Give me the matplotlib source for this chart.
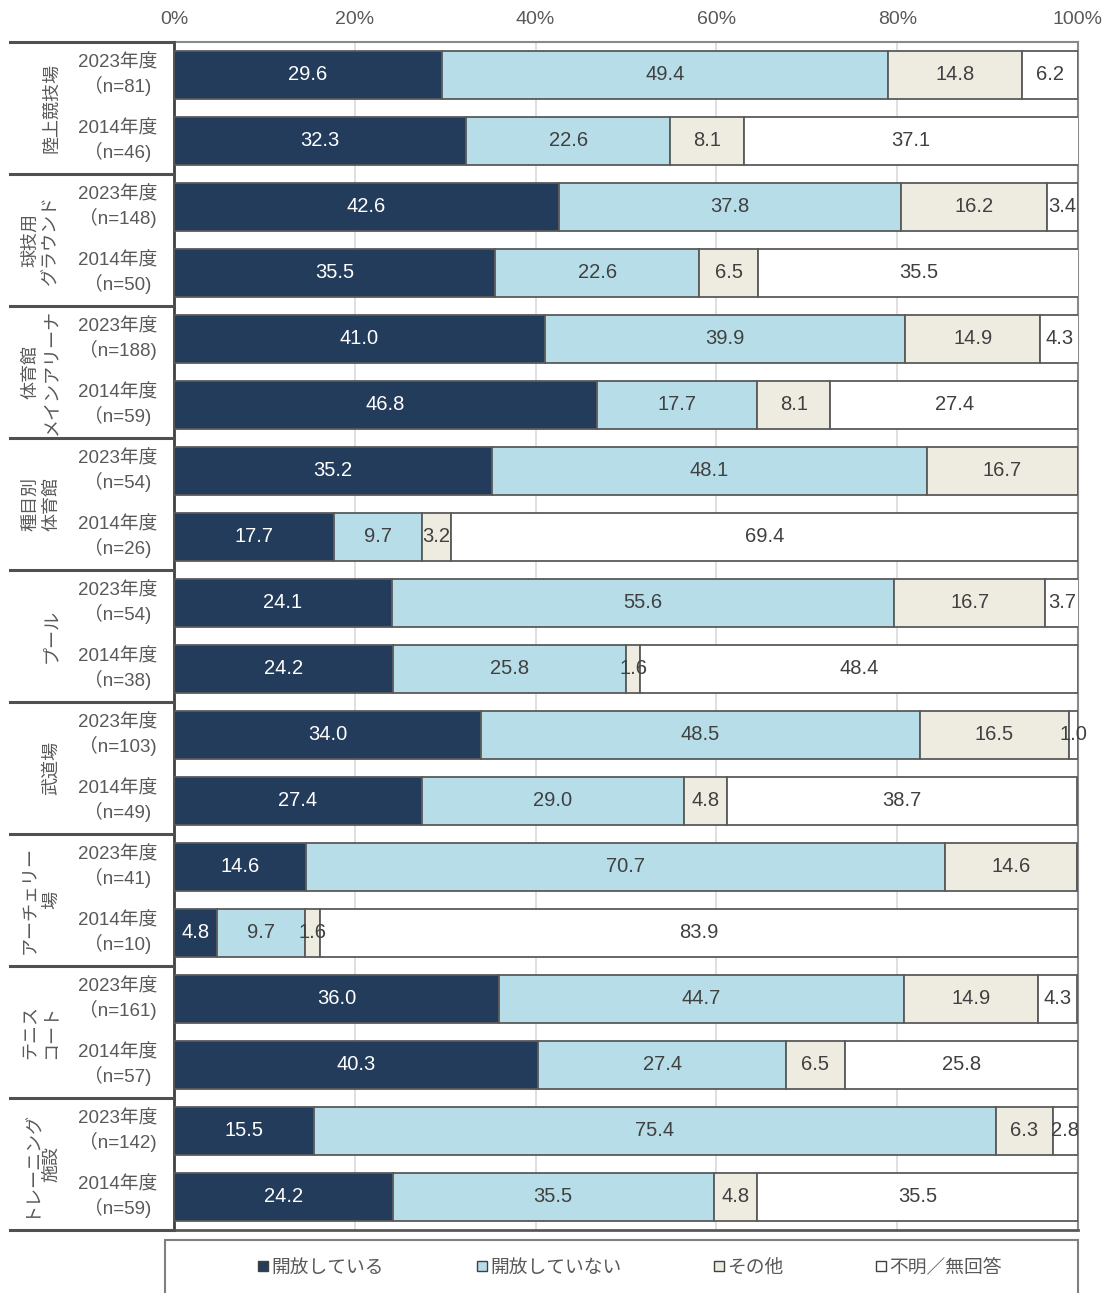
import matplotlib
matplotlib.use('Agg')
import matplotlib.pyplot as plt
from matplotlib.lines import Line2D
from matplotlib.patches import Rectangle
import matplotlib.transforms as mtransforms
import numpy as np

plt.rcParams['font.family'] = ['Liberation Sans', 'Noto Sans CJK JP', 'DejaVu Sans']
CJK = ['Noto Sans CJK JP', 'DejaVu Sans']

# Facilities (two survey years each)
facilities = ['陸上競技場', '球技用\nグラウンド', '体育館\nメインアリーナ', '種目別\n体育館',
              'プール', '武道場', 'アーチェリー\n場', 'テニス\nコート', 'トレーニング\n施設']
years = ['2023年度', '2014年度']
n_2023 = [81, 148, 188, 54, 54, 103, 41, 161, 142]
n_2014 = [46, 50, 59, 26, 38, 49, 10, 57, 59]

# Percentages, ordered facility by facility: 2023, 2014
open_vals = [29.6, 32.3, 42.6, 35.5, 41.0, 46.8, 35.2, 17.7, 24.1, 24.2,
             34.0, 27.4, 14.6, 4.8, 36.0, 40.3, 15.5, 24.2]
closed_vals = [49.4, 22.6, 37.8, 22.6, 39.9, 17.7, 48.1, 9.7, 55.6, 25.8,
               48.5, 29.0, 70.7, 9.7, 44.7, 27.4, 75.4, 35.5]
other_vals = [14.8, 8.1, 16.2, 6.5, 14.9, 8.1, 16.7, 3.2, 16.7, 1.6,
              16.5, 4.8, 14.6, 1.6, 14.9, 6.5, 6.3, 4.8]
unknown_vals = [6.2, 37.1, 3.4, 35.5, 4.3, 27.4, 0.0, 69.4, 3.7, 48.4,
                1.0, 38.7, 0.0, 83.9, 4.3, 25.8, 2.8, 35.5]

series_names = ['開放している', '開放していない', 'その他', '不明／無回答']
series_vals = [open_vals, closed_vals, other_vals, unknown_vals]
colors = ['#243c5c', '#b7dde8', '#eeebe1', '#ffffff']
text_colors = ['#ffffff', '#404040', '#404040', '#404040']
x_ticks = [0, 20, 40, 60, 80, 100]

W, H = 1105, 1293
fig = plt.figure(figsize=(W / 100, H / 100), dpi=100)
left_px, right_px, top_px, bottom_px = 174, 1078, 42, 1230
ax = fig.add_axes([left_px / W, 1 - bottom_px / H,
                   (right_px - left_px) / W, (bottom_px - top_px) / H])

n_bars = len(open_vals)
ypos = np.arange(n_bars)
bar_h = 0.73

left = np.zeros(n_bars)
for vals, col, tcol in zip(series_vals, colors, text_colors):
    vals = np.array(vals)
    ax.barh(ypos, vals, left=left, height=bar_h, color=col,
            edgecolor='#5a5a5a', linewidth=1.3, zorder=3)
    for y, v, l in zip(ypos, vals, left):
        if v > 0:
            ax.text(l + v / 2, y, f'{v:.1f}', ha='center', va='center',
                    color=tcol, fontsize=14.5, zorder=4)
    left += vals

ax.set_xlim(0, 100)
ax.set_ylim(n_bars - 0.5, -0.5)
ax.set_yticks([])
ax.xaxis.tick_top()
ax.set_xticks(x_ticks)
ax.set_xticklabels([f'{t}%' for t in x_ticks], fontsize=14, color='#595959')
ax.tick_params(axis='x', length=0, pad=10)
for t in x_ticks[1:-1]:
    ax.axvline(t, color='#d9d9d9', linewidth=1.2, zorder=1)

for side in ['top', 'right']:
    ax.spines[side].set_color('#8a8a8a')
    ax.spines[side].set_linewidth(1.5)
ax.spines['left'].set_color('#404040')
ax.spines['left'].set_linewidth(2)
ax.spines['bottom'].set_color('#595959')
ax.spines['bottom'].set_linewidth(2)

# Row labels on the left side
trans = mtransforms.blended_transform_factory(ax.transAxes, ax.transData)
ax_w = right_px - left_px
x_year = (118 - left_px) / ax_w
x_fac = (60 - left_px) / ax_w
x_sep = (10 - left_px) / ax_w
for i, fac in enumerate(facilities):
    for j, (yr, n) in enumerate(zip(years, [n_2023[i], n_2014[i]])):
        ax.text(x_year, 2 * i + j, f'{yr}\n（n={n})', transform=trans,
                ha='center', va='center', fontsize=13.5, color='#595959',
                linespacing=1.3, multialignment='center')
    ax.text(x_fac, 2 * i + 0.5, fac, transform=trans, rotation=90,
            ha='right', va='center', multialignment='center',
            fontsize=13, color='#595959', linespacing=1.2, family=CJK)

for k in range(len(facilities) + 1):
    yb = 2 * k - 0.5
    ax.plot([x_sep, 0], [yb, yb], transform=trans, color='#505050',
            linewidth=2.2, clip_on=False, zorder=5)

# Legend panel
fig.patches.append(Rectangle((165 / W, -0.01), (1078 - 165) / W, 0.01 + (H - 1240) / H,
                             transform=fig.transFigure, fill=False,
                             edgecolor='#7f7f7f', linewidth=1.5))
handles = [Line2D([], [], marker='s', linestyle='none', markersize=7,
                  markerfacecolor=c, markeredgecolor='#404040', markeredgewidth=1)
           for c in colors]
fig.legend(handles, series_names, loc='center', ncol=4,
           bbox_to_anchor=(629 / W, 1 - 1267 / H), frameon=False,
           prop={'family': CJK, 'size': 13.5}, handletextpad=0.05,
           columnspacing=4.8, handlelength=0.8, labelcolor='#595959')

fig.savefig('out.png', dpi=100)
